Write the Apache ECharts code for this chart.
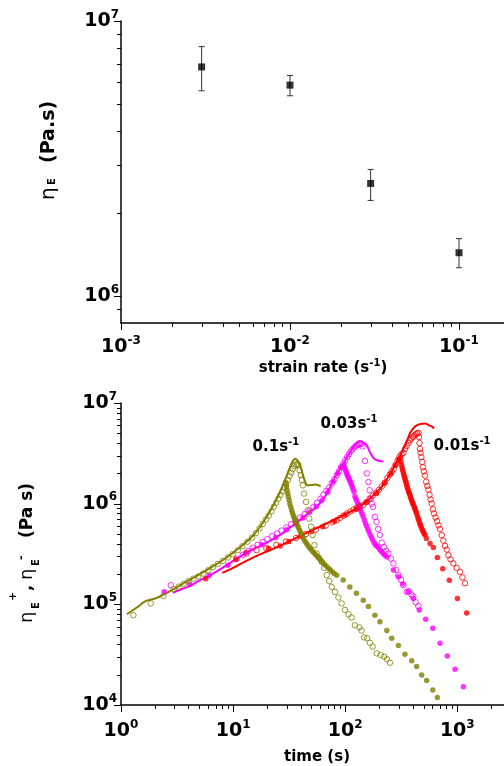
<!DOCTYPE html>
<html><head><meta charset="utf-8">
<script src="https://cdn.jsdelivr.net/npm/echarts@6/dist/echarts.min.js"></script>
<style>html,body{margin:0;padding:0;background:#fff}#c{width:504px;height:766px}</style>
</head><body><div id="c"></div>
<script>
// ---------- top panel: steady extensional viscosity vs strain rate ----------
const rateX    = [0.003, 0.01, 0.03, 0.1];
const etaE     = [6.81e6, 5.85e6, 2.57e6, 1.44e6];
const etaELow  = [5.58e6, 5.35e6, 2.23e6, 1.27e6];
const etaEHigh = [8.07e6, 6.34e6, 2.89e6, 1.62e6];

// ---------- bottom panel: transient viscosity vs time ----------
// 0.1 s^-1 (olive)
const oliveFitT = [1.13, 1.38, 1.67, 1.95, 2.2, 2.6, 3.0, 3.9, 5.0, 6.6, 8.7, 11.4, 15.0, 18.5, 22.5, 26.5, 30.5, 33.5, 35.8, 38.2, 40.1, 41.8, 43.5, 46.0, 50.0, 55.0, 60.4];
const oliveFitE = [8.0e4, 9.3e4, 1.08e5, 1.13e5, 1.19e5, 1.31e5, 1.43e5, 1.7e5, 1.98e5, 2.38e5, 2.9e5, 3.65e5, 4.8e5, 6.5e5, 9.3e5, 1.35e6, 1.98e6, 2.55e6, 2.8e6, 2.62e6, 2.3e6, 1.95e6, 1.7e6, 1.52e6, 1.53e6, 1.55e6, 1.48e6];
const oliveOpenT = [1.29, 1.84, 2.39, 2.95, 3.27, 3.62, 4.0, 4.43, 4.9, 5.4, 6.0, 6.6, 7.3, 8.1, 9.0, 9.9, 11.0, 12.1, 13.4, 14.8, 16.0, 17.2, 18.4, 19.6, 20.8, 22.0, 23.1, 24.2, 25.3, 26.4, 27.5, 28.6, 29.7, 30.8, 31.9, 33.0, 34.1, 35.2, 36.3, 37.4, 38.2, 39.2, 40.1, 41.0, 41.8, 42.9, 44.7, 46.3, 47.8, 49.5, 51.3, 53.1, 55.5, 58.5, 61.7, 65.0, 68.4, 72.0, 75.8, 81.1, 86.9, 93.0, 99.6, 107, 114, 122, 134, 140, 147, 157, 166, 176, 191, 207, 222, 236, 251];
const oliveOpenE = [7.8e4, 1.02e5, 1.21e5, 1.42e5, 1.5e5, 1.6e5, 1.7e5, 1.8e5, 1.89e5, 2.02e5, 2.18e5, 2.34e5, 2.52e5, 2.7e5, 2.92e5, 3.15e5, 3.45e5, 3.78e5, 4.18e5, 4.6e5, 5.1e5, 5.7e5, 6.3e5, 6.95e5, 7.6e5, 8.4e5, 9.3e5, 1.02e6, 1.12e6, 1.22e6, 1.32e6, 1.44e6, 1.57e6, 1.72e6, 1.88e6, 2.03e6, 2.2e6, 2.35e6, 2.45e6, 2.48e6, 2.41e6, 2.15e6, 1.92e6, 1.72e6, 1.52e6, 1.26e6, 1.04e6, 8.6e5, 7.1e5, 5.9e5, 4.87e5, 3.87e5, 3.2e5, 2.9e5, 2.64e5, 2.3e5, 1.95e5, 1.7e5, 1.49e5, 1.33e5, 1.17e5, 1.02e5, 8.8e4, 7.94e4, 7.4e4, 6.2e4, 5.9e4, 5.5e4, 4.7e4, 4.6e4, 4.15e4, 3.8e4, 3.26e4, 3.13e4, 3.02e4, 2.85e4, 2.63e4];
const oliveRelaxT = [29.5, 29.9, 30.3, 30.7, 31.1, 31.6, 32.1, 32.7, 33.3, 33.9, 34.6, 35.2, 35.9, 36.7, 37.5, 38.3, 39.2, 40.2, 41.2, 42.3, 43.4, 44.7, 46.0, 47.4, 48.9, 50.5, 52.2, 54.0, 56.0, 58.0, 60.2, 62.5, 65.0, 67.6, 70.4, 73.3, 76.4, 79.7, 84, 96, 110, 126, 145, 161, 184, 204, 235, 260, 298, 341, 392, 434, 481, 533, 604, 664];
const oliveRelaxE = [1.62e6, 1.48e6, 1.36e6, 1.26e6, 1.17e6, 1.08e6, 1.0e6, 9.25e5, 8.6e5, 8.05e5, 7.55e5, 7.15e5, 6.8e5, 6.45e5, 6.1e5, 5.75e5, 5.45e5, 5.15e5, 4.85e5, 4.55e5, 4.3e5, 4.1e5, 3.9e5, 3.72e5, 3.56e5, 3.42e5, 3.28e5, 3.15e5, 3.02e5, 2.88e5, 2.75e5, 2.62e5, 2.5e5, 2.4e5, 2.3e5, 2.2e5, 2.11e5, 2.03e5, 1.95e5, 1.74e5, 1.49e5, 1.29e5, 1.1e5, 9.5e4, 7.8e4, 6.7e4, 5.5e4, 4.6e4, 3.9e4, 3.2e4, 2.75e4, 2.41e4, 1.99e4, 1.75e4, 1.41e4, 1.19e4];

// 0.03 s^-1 (magenta)
const magFitT = [2.9, 3.5, 4.1, 5.07, 6.1, 7.5, 10, 14, 20, 27, 33, 39.5, 48, 55.7, 65, 72, 78.3, 87, 96.2, 107, 118, 127, 134, 145, 156, 164, 172, 181, 191, 205, 219];
const magFitE = [1.3e5, 1.42e5, 1.52e5, 1.74e5, 1.92e5, 2.2e5, 2.7e5, 3.4e5, 4.1e5, 5.0e5, 5.9e5, 6.86e5, 8.2e5, 9.3e5, 1.15e6, 1.4e6, 1.71e6, 2.1e6, 2.5e6, 3.05e6, 3.66e6, 4.05e6, 4.2e6, 4.05e6, 3.8e6, 3.35e6, 3.03e6, 2.8e6, 2.7e6, 2.66e6, 2.63e6];
const magOpenT = [2.78, 10.8, 12.2, 13.6, 15, 16.6, 18.3, 20.2, 22.3, 24.6, 27, 29.8, 32.8, 36, 39.6, 43.5, 47.8, 52, 56, 60, 64, 68, 72, 76, 80, 84, 88, 92, 96, 100, 104, 108, 112, 116, 120, 124, 128, 132, 136, 140, 143, 150, 155.6, 161, 165, 169, 173, 177, 184, 190, 197, 204, 212, 222, 232, 243, 255, 269, 283, 298, 315, 330, 354, 370, 390, 405, 425, 449];
const magOpenE = [1.55e5, 2.85e5, 3.1e5, 3.4e5, 3.65e5, 3.9e5, 4.15e5, 4.45e5, 4.75e5, 5.05e5, 5.4e5, 5.8e5, 6.25e5, 6.75e5, 7.3e5, 7.9e5, 8.5e5, 9.3e5, 1.02e6, 1.12e6, 1.23e6, 1.34e6, 1.45e6, 1.6e6, 1.75e6, 1.92e6, 2.1e6, 2.3e6, 2.5e6, 2.7e6, 2.9e6, 3.1e6, 3.3e6, 3.45e6, 3.6e6, 3.72e6, 3.82e6, 3.9e6, 3.95e6, 3.92e6, 3.7e6, 2.66e6, 2.0e6, 1.64e6, 1.36e6, 1.12e6, 1.0e6, 9.3e5, 7.4e5, 6.6e5, 5.6e5, 4.87e5, 4.1e5, 3.7e5, 3.4e5, 3.2e5, 2.85e5, 2.55e5, 2.2e5, 1.95e5, 1.75e5, 1.55e5, 1.33e5, 1.35e5, 1.25e5, 1.19e5, 1.05e5, 9.6e4];
const magRelaxT = [2.43, 4.1, 6.1, 9.0, 13, 18, 24, 30, 36, 42, 48, 55, 62, 70, 78, 86, 92, 97, 98.5, 100, 101.5, 103, 104.5, 106, 107.8, 109.6, 111.5, 113.5, 115.5, 117.7, 119.8, 122, 124.5, 127, 129.7, 132.5, 135.5, 138.5, 141.5, 144.7, 148, 151.5, 155, 159, 163, 167, 171.5, 176, 181, 186, 191.5, 197, 203, 210, 218, 226, 235, 269, 298, 326, 365, 405, 458, 522, 604, 701, 815, 954, 1132];
const magRelaxE = [1.33e5, 1.58e5, 1.93e5, 2.45e5, 3.25e5, 3.9e5, 4.6e5, 5.5e5, 6.3e5, 7.2e5, 8.2e5, 9.3e5, 1.08e6, 1.3e6, 1.65e6, 2.0e6, 2.3e6, 2.42e6, 2.3e6, 2.2e6, 2.1e6, 2.0e6, 1.92e6, 1.85e6, 1.78e6, 1.71e6, 1.63e6, 1.55e6, 1.47e6, 1.39e6, 1.31e6, 1.18e6, 1.12e6, 1.06e6, 1.0e6, 9.5e5, 8.9e5, 8.4e5, 7.9e5, 7.4e5, 6.9e5, 6.4e5, 6.0e5, 5.6e5, 5.25e5, 4.9e5, 4.6e5, 4.35e5, 4.1e5, 3.9e5, 3.8e5, 3.7e5, 3.5e5, 3.35e5, 3.2e5, 3.08e5, 2.96e5, 2.19e5, 1.88e5, 1.59e5, 1.33e5, 1.14e5, 8.8e4, 7.1e4, 5.8e4, 4.1e4, 3.06e4, 2.26e4, 1.52e4];

// 0.01 s^-1 (red)
const redFitT = [8.0, 10, 14, 20, 26, 32, 40, 50, 63, 73, 90, 103, 120, 145, 170, 204, 235, 269, 300, 330, 355, 378, 405, 434, 470, 515, 560, 591, 620];
const redFitE = [2.05e5, 2.3e5, 2.8e5, 3.35e5, 3.8e5, 4.25e5, 4.8e5, 5.4e5, 6.1e5, 6.6e5, 7.4e5, 8.0e5, 8.7e5, 9.9e5, 1.15e6, 1.4e6, 1.75e6, 2.25e6, 2.8e6, 3.5e6, 4.2e6, 5.0e6, 5.6e6, 6.0e6, 6.2e6, 6.24e6, 6.0e6, 5.87e6, 5.57e6];
const redOpenT = [13.2, 16.2, 19.8, 24.3, 29.7, 36.4, 44.6, 54.6, 66.9, 77, 84, 90, 96.7, 104, 111, 119, 127, 136, 145, 155, 165, 176, 188, 200, 212, 225, 238, 250, 260, 270, 282, 294, 306, 318, 330, 342, 354, 366, 378, 390, 402, 414, 426, 438, 449, 455, 460, 465, 470, 478, 486, 494, 503, 515, 528, 540, 552, 565, 578, 591, 605, 620, 640, 660, 680, 700, 726, 750, 777, 805, 832, 870, 920, 988, 1057, 1110, 1172];
const redOpenE = [3.2e5, 3.45e5, 3.62e5, 3.9e5, 4.2e5, 4.55e5, 5.0e5, 5.5e5, 6.05e5, 6.55e5, 6.86e5, 7.2e5, 7.6e5, 8.0e5, 8.35e5, 8.75e5, 9.1e5, 9.45e5, 9.7e5, 1.04e6, 1.12e6, 1.2e6, 1.28e6, 1.37e6, 1.48e6, 1.62e6, 1.8e6, 1.95e6, 2.08e6, 2.2e6, 2.45e6, 2.7e6, 2.95e6, 3.1e6, 3.2e6, 3.5e6, 3.75e6, 4.0e6, 4.27e6, 4.45e6, 4.6e6, 4.75e6, 4.9e6, 5.0e6, 5.04e6, 4.6e6, 4.0e6, 3.5e6, 3.2e6, 2.9e6, 2.6e6, 2.3e6, 2.1e6, 1.9e6, 1.65e6, 1.5e6, 1.38e6, 1.22e6, 1.1e6, 1.0e6, 8.8e5, 8.0e5, 7.3e5, 6.7e5, 6.1e5, 5.6e5, 4.87e5, 4.3e5, 3.8e5, 3.5e5, 3.08e5, 2.8e5, 2.55e5, 2.3e5, 2.1e5, 1.85e5, 1.62e5];
const redRelaxT = [5.7, 10.6, 20.7, 26.3, 31.5, 40, 50, 63, 80, 100, 125, 155, 190, 225, 255, 280, 300, 310, 314, 318, 322, 326, 330, 334, 338, 342, 346, 350, 354, 358, 363, 368, 373, 378, 383, 388, 393, 398, 404, 410, 416, 422, 428, 434, 441, 448, 455, 462, 470, 478, 487, 496, 505, 515, 530, 571, 611, 664, 741, 849, 1001, 1213];
const redRelaxE = [1.8e5, 2.79e5, 3.6e5, 3.8e5, 4.2e5, 4.75e5, 5.3e5, 5.9e5, 6.7e5, 7.7e5, 8.8e5, 1.03e6, 1.26e6, 1.6e6, 1.98e6, 2.4e6, 2.75e6, 2.85e6, 2.6e6, 2.42e6, 2.28e6, 2.15e6, 2.03e6, 1.93e6, 1.84e6, 1.75e6, 1.67e6, 1.6e6, 1.52e6, 1.45e6, 1.38e6, 1.32e6, 1.27e6, 1.22e6, 1.16e6, 1.11e6, 1.06e6, 1.02e6, 9.9e5, 9.5e5, 9.1e5, 8.7e5, 8.3e5, 7.98e5, 7.5e5, 7.1e5, 6.75e5, 6.4e5, 6.1e5, 5.8e5, 5.5e5, 5.25e5, 5.05e5, 4.87e5, 4.5e5, 4.03e5, 3.67e5, 2.92e5, 2.26e5, 1.73e5, 1.14e5, 8.2e4];

// strain-rate annotations
const annotT    = [24.1, 108, 1102];
const annotE    = [3.63e6, 6.15e6, 3.72e6];
const annotText = ['0.1', '0.03', '0.01'];

// tick values
const topXMajor = [0.001, 0.01, 0.1];
const topXMinor = [0.002, 0.003, 0.004, 0.005, 0.006, 0.007, 0.008, 0.009, 0.02, 0.03, 0.04, 0.05, 0.06, 0.07, 0.08, 0.09];
const topYMajor = [1e6, 1e7];
const topYMinor = [9e5, 2e6, 3e6, 4e6, 5e6, 6e6, 7e6, 8e6, 9e6];
const botXMajor = [1, 10, 100, 1000];
const botXMinor = [2, 3, 4, 5, 6, 7, 8, 9, 20, 30, 40, 50, 60, 70, 80, 90, 200, 300, 400, 500, 600, 700, 800, 900, 2000];
const botYMajor = [1e4, 1e5, 1e6, 1e7];
const botYMinor = [2e4, 3e4, 4e4, 5e4, 6e4, 7e4, 8e4, 9e4, 2e5, 3e5, 4e5, 5e5, 6e5, 7e5, 8e5, 9e5, 2e6, 3e6, 4e6, 5e6, 6e6, 7e6, 8e6, 9e6];

// ---------- build ----------
const FONT = 'DejaVu Sans';
const OLIVE = '#808000', MAG = '#ff00ff', RED = '#ff0000';
function pairs(a, b) { return a.map((v, i) => [v, b[i]]); }
function tickData(xMaj, xMin, yMaj, yMin, xRef, yRef) {
  const d = [];
  xMaj.forEach(v => d.push([v, yRef, 0]));
  xMin.forEach(v => d.push([v, yRef, 1]));
  yMaj.forEach(v => d.push([xRef, v, 2]));
  yMin.forEach(v => d.push([xRef, v, 3]));
  return d;
}
function renderTick(params, api) {
  const k = api.value(2);
  const p = api.coord([api.value(0), api.value(1)]);
  const cs = params.coordSys;
  const style = { stroke: '#000', lineWidth: 1 };
  if (k < 2) {
    const L = k === 0 ? 7 : 4; const x = Math.round(p[0]) + 0.5; const y0 = cs.y + cs.height;
    return { type: 'line', shape: { x1: x, y1: y0, x2: x, y2: y0 + L }, style };
  }
  const L = k === 2 ? 7 : 4; const y = Math.round(p[1]) + 0.5;
  return { type: 'line', shape: { x1: cs.x - L, y1: y, x2: cs.x, y2: y }, style };
}
function renderErr(params, api) {
  const x = api.value(0);
  const a = api.coord([x, api.value(1)]), b = api.coord([x, api.value(2)]);
  const st = { stroke: '#333', lineWidth: 1 }; const w = 3;
  return { type: 'group', children: [
    { type: 'line', shape: { x1: a[0], y1: a[1], x2: b[0], y2: b[1] }, style: st },
    { type: 'line', shape: { x1: a[0] - w, y1: a[1], x2: a[0] + w, y2: a[1] }, style: st },
    { type: 'line', shape: { x1: b[0] - w, y1: b[1], x2: b[0] + w, y2: b[1] }, style: st }
  ]};
}
function expLabel(v) {
  const e = Math.log10(v); const r = Math.round(e);
  if (Math.abs(e - r) > 1e-6) return '';
  return '{b|10}{s|' + r + '}';
}
const tickRich = {
  b: { fontFamily: FONT, fontWeight: 'bold', fontSize: 19, lineHeight: 25, color: '#000' },
  s: { fontFamily: FONT, fontWeight: 'bold', fontSize: 12, lineHeight: 13, color: '#000', verticalAlign: 'top' }
};
function logAxis(grid, min, max, margin) {
  return {
    type: 'log', logBase: 10, gridIndex: grid, min, max,
    axisLine: { show: true, onZero: false, lineStyle: { color: '#000', width: 1.5 } },
    axisTick: { show: false }, minorTick: { show: false },
    splitLine: { show: false }, minorSplitLine: { show: false },
    axisLabel: { formatter: expLabel, margin, color: '#000', rich: tickRich }
  };
}
function lineSer(t, e, color) {
  return { type: 'line', xAxisIndex: 1, yAxisIndex: 1, data: pairs(t, e), showSymbol: false, symbol: 'none',
    smooth: 0.3, lineStyle: { color, width: 2 }, silent: true, z: 2 };
}
function openSer(t, e, color) {
  return { type: 'scatter', xAxisIndex: 1, yAxisIndex: 1, data: pairs(t, e), symbol: 'circle', symbolSize: 5.5,
    itemStyle: { color: 'rgba(255,255,255,0)', borderColor: color, borderWidth: 1 }, silent: true, z: 3 };
}
function fillSer(t, e, color) {
  return { type: 'scatter', xAxisIndex: 1, yAxisIndex: 1, data: pairs(t, e), symbol: 'circle', symbolSize: 5.5,
    itemStyle: { color }, silent: true, z: 3 };
}
const titleRich = {
  b: { fontFamily: FONT, fontWeight: 'bold', fontSize: 15, lineHeight: 20, fill: '#000' },
  s: { fontFamily: FONT, fontWeight: 'bold', fontSize: 10, lineHeight: 11, fill: '#000', verticalAlign: 'top' }
};

const baseGraphic = [
  { type: 'group', x: 54.5, y: 200, rotation: Math.PI / 2, children: [
    { type: 'text', x: 0, y: -6, style: { text: 'η', fontFamily: FONT, fontSize: 20, fill: '#000', align: 'left', verticalAlign: 'middle' } },
    { type: 'text', x: 15, y: -2, style: { text: 'E', fontFamily: FONT, fontWeight: 'bold', fontSize: 10, fill: '#000', align: 'left', verticalAlign: 'middle' } },
    { type: 'text', x: 37, y: -5.6, style: { text: '(Pa.s)', fontFamily: FONT, fontWeight: 'bold', fontSize: 19, fill: '#000', align: 'left', verticalAlign: 'middle' } }
  ]},
  { type: 'group', x: 33, y: 623, rotation: Math.PI / 2, children: [
    { type: 'text', x: 0, y: -5.3, style: { text: 'η', fontFamily: FONT, fontSize: 18, fill: '#000', align: 'left', verticalAlign: 'middle' } },
    { type: 'text', x: 14, y: 3, style: { text: 'E', fontFamily: FONT, fontWeight: 'bold', fontSize: 10, fill: '#000', align: 'left', verticalAlign: 'middle' } },
    { type: 'text', x: 22, y: -20, style: { text: '+', fontFamily: FONT, fontWeight: 'bold', fontSize: 11, fill: '#000', align: 'left', verticalAlign: 'middle' } },
    { type: 'text', x: 32, y: -4.7, style: { text: ',', fontFamily: FONT, fontWeight: 'bold', fontSize: 16, fill: '#000', align: 'left', verticalAlign: 'middle' } },
    { type: 'text', x: 43, y: -5.3, style: { text: 'η', fontFamily: FONT, fontSize: 18, fill: '#000', align: 'left', verticalAlign: 'middle' } },
    { type: 'text', x: 57, y: 3, style: { text: 'E', fontFamily: FONT, fontWeight: 'bold', fontSize: 10, fill: '#000', align: 'left', verticalAlign: 'middle' } },
    { type: 'text', x: 63, y: -12, style: { text: '-', fontFamily: FONT, fontWeight: 'bold', fontSize: 11, fill: '#000', align: 'left', verticalAlign: 'middle' } },
    { type: 'text', x: 85, y: -5, style: { text: '(Pa s)', fontFamily: FONT, fontWeight: 'bold', fontSize: 17, fill: '#000', align: 'left', verticalAlign: 'middle' } }
  ]},
  { type: 'text', x: 323, y: 368, style: { text: '{b|strain rate (s}{s|-1}{b|)}', align: 'center', verticalAlign: 'middle', rich: titleRich } },
  { type: 'text', x: 317, y: 757, style: { text: 'time (s)', fontFamily: FONT, fontWeight: 'bold', fontSize: 15, fill: '#000', align: 'center', verticalAlign: 'middle' } }
];

const option = {
  animation: false,
  backgroundColor: '#fff',
  grid: [
    { left: 121, top: 21, width: 383, height: 302, containLabel: false, outerBoundsMode: 'none' },
    { left: 121, top: 403, width: 383, height: 302, containLabel: false, outerBoundsMode: 'none' }
  ],
  xAxis: [ logAxis(0, 0.001, 0.1846, 12), logAxis(1, 1, 2610, 14) ],
  yAxis: [ logAxis(0, 8e5, 1e7, 2), logAxis(1, 1e4, 1e7, 4) ],
  series: [
    { type: 'custom', xAxisIndex: 0, yAxisIndex: 0, renderItem: renderTick, clip: false, silent: true, z: 10,
      encode: { x: 0, y: 1 }, data: tickData(topXMajor, topXMinor, topYMajor, topYMinor, 0.001, 8e5) },
    { type: 'custom', xAxisIndex: 1, yAxisIndex: 1, renderItem: renderTick, clip: false, silent: true, z: 10,
      encode: { x: 0, y: 1 }, data: tickData(botXMajor, botXMinor, botYMajor, botYMinor, 1, 1e4) },
    { type: 'custom', xAxisIndex: 0, yAxisIndex: 0, renderItem: renderErr, silent: true, z: 3,
      encode: { x: 0, y: [1, 2] }, data: rateX.map((x, i) => [x, etaELow[i], etaEHigh[i]]) },
    { type: 'scatter', xAxisIndex: 0, yAxisIndex: 0, data: pairs(rateX, etaE), symbol: 'rect', symbolSize: 7,
      itemStyle: { color: '#000' }, silent: true, z: 4 },

    lineSer(magFitT, magFitE, MAG), openSer(magOpenT, magOpenE, MAG), fillSer(magRelaxT, magRelaxE, MAG),
    lineSer(redFitT, redFitE, RED), openSer(redOpenT, redOpenE, RED), fillSer(redRelaxT, redRelaxE, RED),
    lineSer(oliveFitT, oliveFitE, OLIVE), openSer(oliveOpenT, oliveOpenE, OLIVE), fillSer(oliveRelaxT, oliveRelaxE, OLIVE)
  ],
  graphic: baseGraphic
};
const chart = echarts.init(document.getElementById('c'));
chart.setOption(option);

// strain-rate annotations placed through the bottom grid's scales
const annGraphic = annotT.map((t, i) => {
  const p = chart.convertToPixel({ gridIndex: 1 }, [t, annotE[i]]);
  return { type: 'text', x: p[0], y: p[1], z: 20,
    style: { text: '{b|' + annotText[i] + 's}{s|-1}', align: 'center', verticalAlign: 'middle', rich: titleRich } };
});
chart.setOption({ graphic: baseGraphic.concat(annGraphic) });
</script></body></html>
